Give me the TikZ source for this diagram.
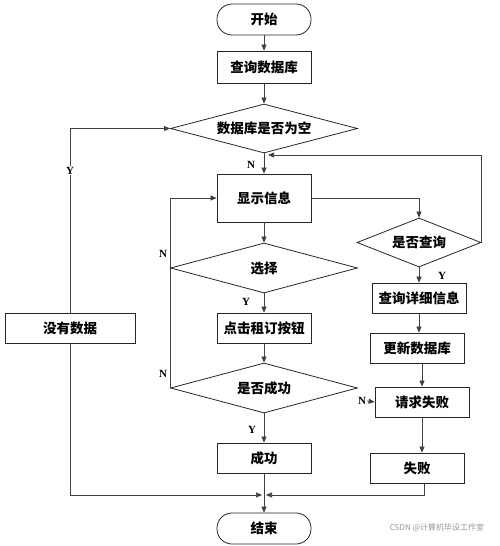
\documentclass[tikz,border=0pt]{standalone}
\usepackage{fontspec}
\setmainfont{Liberation Serif}
\newfontfamily\cjk{Noto Sans CJK SC}
\usetikzlibrary{arrows.meta,shapes.geometric}
\tikzset{
  box/.style={draw=black!85,line width=0.8pt,minimum width=94pt,minimum height=30pt,inner sep=0pt,font=\cjk\bfseries\fontsize{13.5}{13.5}\selectfont},
  term/.style={box,rounded corners=15pt,minimum height=31pt},
  dia/.style={draw=black!85,line width=0.8pt,diamond,aspect=3.8,inner sep=0pt,minimum width=187pt,minimum height=50pt,font=\cjk\bfseries\fontsize{13.5}{13.5}\selectfont},
  con/.style={draw=black!75,line width=0.7pt},
  arr/.style={con,-{Triangle[length=6pt,width=5pt]}},
  lab/.style={font=\bfseries\fontsize{11}{11}\selectfont,inner sep=1pt},
}
\begin{document}
\begin{tikzpicture}[x=1pt,y=-1pt]
\useasboundingbox[fill=white] (0,0) rectangle (499,546);
\node[term] (start) at (264,19.5) {开始};
\node[box,minimum height=32pt] (q) at (264,67) {查询数据库};
\node[dia,minimum height=49pt] (d1) at (264,128.5) {数据库是否为空};
\node[box,minimum height=48pt] (show) at (264,198) {显示信息};
\node[box,minimum width=130pt] (nodata) at (70,328) {没有数据};
\node[dia] (d2) at (264,268) {选择};
\node[box] (click) at (264,328) {点击租订按钮};
\node[dia] (d3) at (264,388) {是否成功};
\node[box] (succ) at (264,458) {成功};
\node[term] (end) at (264,528.5) {结束};
\node[dia,aspect=2.5,minimum width=124pt,minimum height=49pt] (d4) at (419,242.5) {是否查询};
\node[box] (detail) at (419,298) {查询详细信息};
\node[box] (upd) at (417,348) {更新数据库};
\node[box] (req) at (422,402) {请求失败};
\node[box] (fail) at (417,468) {失败};
\coordinate (join) at (264,495);
\coordinate (back) at (268,155);

\draw[arr] (start) -- (q);
\draw[arr] (q) -- (d1);
\draw[arr] (d1) -- (show);
\node[lab] (n0) at (251,165) {N};
\draw[arr] (nodata.north) |- node[lab,fill=white,pos=0.385] {Y} (d1.west);
\draw[arr] (show) -- (d2);
\draw[arr] (d3.west) -- (d3.west |- show.west) -- (show.west);
\node[lab] (n1) at (163,254) {N};
\node[lab] (n2) at (163,374) {N};
\draw[arr] (d2) -- (click);
\node[lab] (y2) at (246,302) {Y};
\draw[arr] (click) -- (d3);
\draw[arr] (d3) -- (succ);
\node[lab] (y3) at (252,430) {Y};
\draw[arr] (succ) -- (end);
\draw[arr] (nodata.south) |- ([xshift=-2pt]join);
\draw[arr] ([xshift=7pt]fail.south) |- ([xshift=2pt]join);
\draw[arr] (show.east) -| (d4.north);
\draw[arr] (d4.east) |- (back);
\draw[arr] (d4) -- (detail);
\node[lab] (y4) at (442,276) {Y};
\draw[arr] (detail.south) -- (detail.south |- upd.north);
\draw[arr] (req.north |- upd.south) -- (req.north);
\draw[arr] (req.south) -- (req.south |- fail.north);
\node[lab] (n3) at (362,401) {N};
\draw[arr] (n3.east) -- (req.west);
\node[text=black!40,font=\cjk\fontsize{8}{8}\selectfont] (wm) at (437,528) {CSDN @计算机毕设工作室};
\end{tikzpicture}
\end{document}
